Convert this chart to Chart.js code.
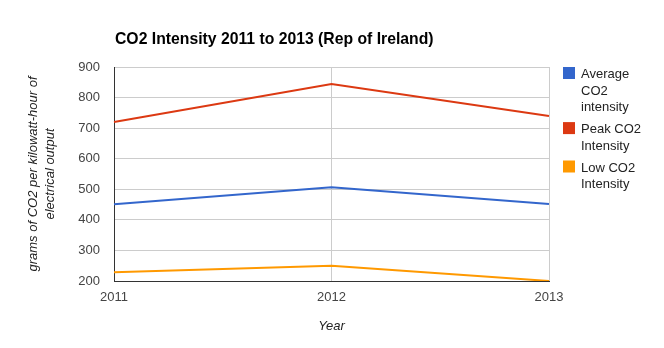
<!DOCTYPE html>
<html>
<head>
<meta charset="utf-8">
<script src="https://cdn.jsdelivr.net/npm/chart.js@4/dist/chart.umd.min.js"></script>
<style>
html, body { margin: 0; padding: 0; background: #fff; }
#chart { display: block; }
</style>
</head>
<body>
<canvas id="chart" width="664" height="348"></canvas>
<script>
// chart values
const chartTitle = 'CO2 Intensity 2011 to 2013 (Rep of Ireland)';
const years = ['2011', '2012', '2013'];
const avgIntensity = [451, 507, 452];
const peakIntensity = [720, 844, 740];
const lowIntensity = [229, 250, 200];
const seriesNames = ['Average CO2 intensity', 'Peak CO2 Intensity', 'Low CO2 Intensity'];
const seriesColors = ['#3366cc', '#dc3912', '#ff9900'];
const yAxisTitle = ['grams of CO2 per kilowatt-hour of', 'electrical output'];
const xAxisTitle = 'Year';

const fontFamily = '"Liberation Sans", Arial, sans-serif';

// title drawn at the left edge of the plot area
const titlePlugin = {
    id: 'topTitle',
    afterDraw(chart) {
        const ctx = chart.ctx;
        ctx.save();
        ctx.font = 'bold 15.75px ' + fontFamily;
        ctx.fillStyle = '#000';
        ctx.textBaseline = 'middle';
        ctx.textAlign = 'left';
        ctx.fillText(chartTitle, chart.chartArea.left + 1, 39.5);
        ctx.restore();
    }
};

// legend on the right with wrapped labels
function wrapText(ctx, text, maxWidth) {
    const words = text.split(' ');
    const lines = [];
    let line = '';
    words.forEach(word => {
        const test = line ? line + ' ' + word : word;
        if (line && ctx.measureText(test).width > maxWidth) {
            lines.push(line);
            line = word;
        } else {
            line = test;
        }
    });
    if (line) lines.push(line);
    return lines;
}

const legendPlugin = {
    id: 'sideLegend',
    afterDraw(chart) {
        const ctx = chart.ctx;
        const boxX = chart.chartArea.right + 14;
        const textX = boxX + 18;
        const lineH = 16.7;
        let top = chart.chartArea.top;
        ctx.save();
        ctx.font = '13px ' + fontFamily;
        ctx.textBaseline = 'middle';
        ctx.textAlign = 'left';
        chart.data.datasets.forEach(ds => {
            ctx.fillStyle = ds.borderColor;
            ctx.fillRect(boxX, top, 12, 12);
            ctx.fillStyle = '#222';
            const lines = wrapText(ctx, ds.label, 72);
            lines.forEach((l, i) => {
                ctx.fillText(l, textX, top + 7.5 + i * lineH);
            });
            top += lines.length * lineH + 5;
        });
        ctx.restore();
    }
};

const seriesData = [avgIntensity, peakIntensity, lowIntensity];

const datasets = seriesData.map((values, i) => ({
    label: seriesNames[i],
    data: values,
    borderColor: seriesColors[i],
    backgroundColor: seriesColors[i],
    borderWidth: 2,
    pointRadius: 0,
    tension: 0,
    fill: false
}));

const ctx = document.getElementById('chart').getContext('2d');

new Chart(ctx, {
    type: 'line',
    data: {
        labels: years,
        datasets: datasets
    },
    options: {
        responsive: false,
        animation: false,
        layout: {
            padding: { top: 67, right: 115, left: 0, bottom: 0 }
        },
        plugins: {
            legend: { display: false },
            tooltip: { enabled: false },
            title: { display: false }
        },
        scales: {
            x: {
                type: 'category',
                offset: false,
                afterFit(scale) { scale.height = 67; },
                grid: { color: '#cccccc', drawTicks: false, z: -1 },
                border: { color: '#333333', width: 1 },
                ticks: {
                    color: '#444',
                    padding: 9,
                    maxRotation: 0,
                    font: { family: fontFamily, size: 13 }
                },
                title: {
                    display: true,
                    text: xAxisTitle,
                    color: '#222',
                    font: { family: fontFamily, size: 13, style: 'italic' },
                    padding: { top: 0, bottom: 14 }
                }
            },
            y: {
                min: 200,
                max: 900,
                afterFit(scale) { scale.width = 114; },
                grid: { color: '#cccccc', drawTicks: false, z: -1 },
                border: { color: '#333333', width: 1 },
                ticks: {
                    stepSize: 100,
                    color: '#444',
                    padding: 14,
                    font: { family: fontFamily, size: 13 }
                },
                title: {
                    display: true,
                    text: yAxisTitle,
                    color: '#222',
                    font: { family: fontFamily, size: 13, style: 'italic', lineHeight: 17 / 13 },
                    padding: { top: 24.5, bottom: 0 }
                }
            }
        }
    },
    plugins: [titlePlugin, legendPlugin]
});
</script>
</body>
</html>
